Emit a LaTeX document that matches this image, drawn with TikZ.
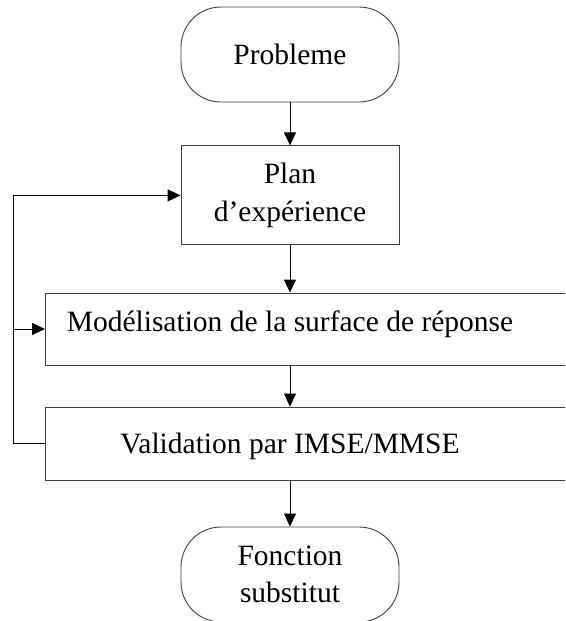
\documentclass[tikz,border=0pt]{standalone}
\usepackage{fontspec}
\setmainfont{Liberation Serif}
\usetikzlibrary{positioning, arrows.meta}

\begin{document}
\begin{tikzpicture}[x=1pt, y=1pt,
    every node/.style={font=\fontsize{29.5}{37.5}\selectfont},
    box/.style={draw=black!75, line width=0.9pt, inner sep=0pt},
    terminal/.style={box, rounded corners=40pt, minimum width=218pt, minimum height=95pt, align=center},
    stepbox/.style={box, minimum width=218pt, minimum height=99pt, align=center},
    widebox/.style={box, anchor=west, minimum width=530pt},
    flow/.style={line width=0.9pt, -{Triangle[length=13pt, width=12pt]}}]
    \useasboundingbox (0,0) rectangle (565,-621);
    \clip (0,0) rectangle (565,-621);

    \node[terminal] (prob) at (290,-54.5) {Probleme};
    \node[stepbox, below=43pt of prob] (plan) {Plan\\d’expérience};
    \node[widebox, minimum height=72pt] (mod) at (45,-329) {};
    \node[anchor=base] (modtxt) at (290,-331.5) {Modélisation de la surface de réponse};
    \node[widebox, minimum height=73pt] (val) at (45,-443.5) {};
    \node[anchor=base] (valtxt) at (290,-453.5) {Validation par IMSE/MMSE};
    \node[terminal] (fonc) at (290,-574.5) {Fonction\\substitut};

    % main flow
    \draw[flow] (prob) -- (plan);
    \draw[flow] (plan) -- (plan.south |- mod.north);
    \draw[flow] (plan.south |- mod.south) -- (plan.south |- val.north);
    \draw[flow] (fonc.north |- val.south) -- (fonc);

    % feedback loop
    \coordinate (loop) at (13,-443.5);
    \draw[flow] (val.west) -- (loop) |- (plan.west);
    \draw[flow] (loop |- mod.west) -- (mod.west);
\end{tikzpicture}
\end{document}
